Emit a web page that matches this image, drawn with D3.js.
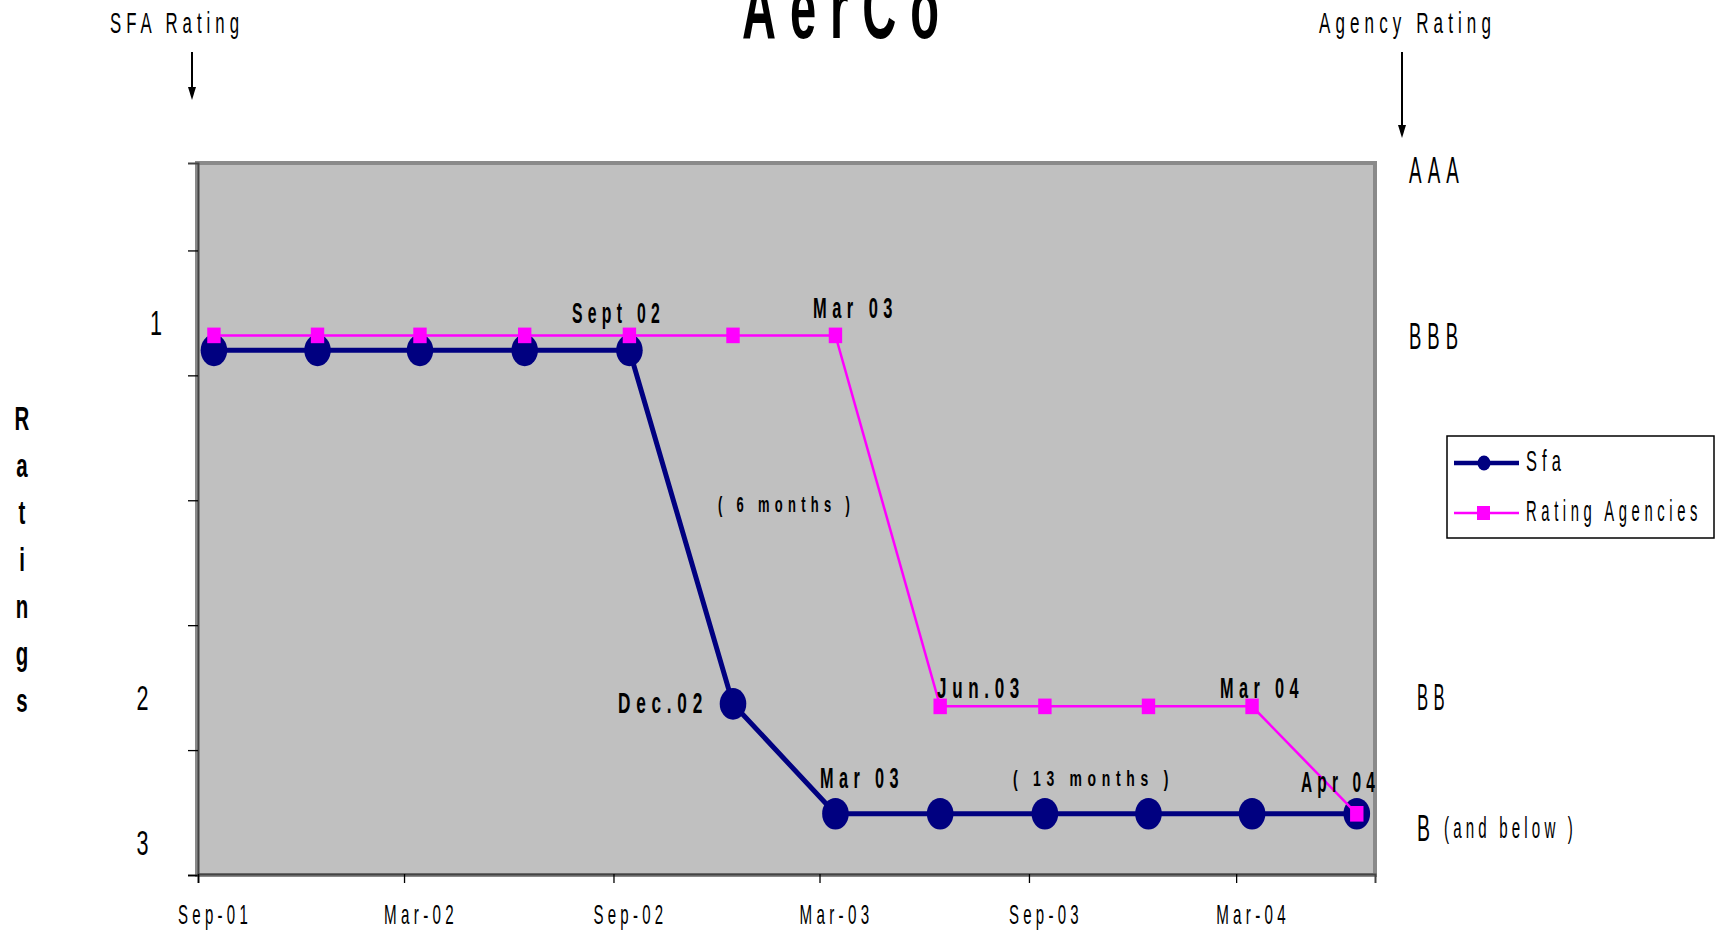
<!DOCTYPE html>
<html>
<head>
<meta charset="utf-8">
<script src="https://cdn.jsdelivr.net/npm/d3@7"></script>
<style>
  body { margin: 0; background: #fff; }
  svg { display: block; }
  text { font-family: "Liberation Sans Narrow", "Arial Narrow", "Liberation Sans", Arial, sans-serif; fill: #000; }
</style>
</head>
<body>
<svg id="chart" width="1717" height="933"></svg>
<script>
// ----- data -----
const dates = ["2001-09-15", "2001-12-15", "2002-03-15", "2002-06-15", "2002-09-15", "2002-12-15",
               "2003-03-15", "2003-06-15", "2003-09-15", "2003-12-15", "2004-03-15", "2004-06-15"];
// rating level in axis units (0 = bottom of plot)
const sfaValues    = [4.2, 4.2, 4.2, 4.2, 4.2, 1.37, 0.49, 0.49, 0.49, 0.49, 0.49, 0.49];
const agencyValues = [4.32, 4.32, 4.32, 4.32, 4.32, 4.32, 4.32, 1.35, 1.35, 1.35, 1.35, 0.49];
const xTickDates  = ["2001-09-01", "2002-03-01", "2002-09-01", "2003-03-01", "2003-09-01", "2004-03-01"];
const xTickLabels = ["Sep-01", "Mar-02", "Sep-02", "Mar-03", "Sep-03", "Mar-04"];
const yTicks = [0, 1, 2, 3, 4, 5];
const seriesNames = ["Sfa", "Rating Agencies"];
const agencyGrades = ["AAA", "BBB", "BB", "B"];

const parse = d3.timeParse("%Y-%m-%d");
const svg = d3.select("#chart");

// plot area
const plot = { left: 197, right: 1375, top: 163, bottom: 875 };

const x = d3.scaleTime()
  .domain([parse("2001-09-01"), parse("2004-07-01")])
  .range([198, plot.right]);
const y = d3.scaleLinear()
  .domain([0, 5.7])
  .range([plot.bottom, plot.top]);

// helper for the stretched, narrow Excel-looking text
function label(sel, t, px, py, o) {
  const ls = t.length > 1 ? (o.ls || 0) : 0;
  const el = sel.append("text").attr("x", px).attr("y", py).text(t)
    .attr("font-size", o.size)
    .attr("font-weight", o.bold ? "bold" : "normal")
    .attr("letter-spacing", ls);
  if (o.w) el.attr("textLength", o.w).attr("lengthAdjust", "spacingAndGlyphs");
  return el;
}
function narrow(sel, t, px, py, size, bold, sx) {
  sel.append("text")
    .attr("transform", `translate(${px},${py}) scale(${sx},1)`)
    .attr("text-anchor", "middle")
    .attr("font-size", size)
    .attr("font-weight", bold ? "bold" : "normal")
    .text(t);
}

// background + frame
svg.append("rect")
  .attr("x", plot.left).attr("y", plot.top)
  .attr("width", plot.right - plot.left).attr("height", plot.bottom - plot.top)
  .attr("fill", "#c0c0c0").attr("stroke", "#8a8a8a").attr("stroke-width", 4);

// axes
const yAxis = d3.axisLeft(y).tickValues(yTicks).tickSize(10).tickFormat("");
svg.append("g").attr("transform", `translate(${plot.left + 1},0)`).call(yAxis)
  .call(g => g.select(".domain").attr("stroke", "#444").attr("stroke-width", 2))
  .call(g => g.selectAll(".tick line").attr("stroke", "#000").attr("stroke-width", 1.3));

const xAxis = d3.axisBottom(x).tickValues(xTickDates.map(parse)).tickSize(9).tickFormat("");
svg.append("g").attr("transform", `translate(0,${plot.bottom - 1})`).call(xAxis)
  .call(g => g.select(".domain").attr("stroke", "#444").attr("stroke-width", 2))
  .call(g => g.selectAll(".tick line").attr("stroke", "#000").attr("stroke-width", 1.3));

// x tick labels (Excel places them mid-month)
const xw = 74;
svg.append("g").selectAll("text")
  .data(xTickLabels)
  .join("text")
  .attr("x", (d, i) => x(parse(xTickDates[i])) + 17 - xw / 2)
  .attr("y", 924)
  .attr("font-size", 28)
  .attr("letter-spacing", 8)
  .attr("textLength", xw)
  .attr("lengthAdjust", "spacingAndGlyphs")
  .text(d => d);

// series
const sfa = dates.map((d, i) => ({ date: parse(d), v: sfaValues[i] }));
const agency = dates.map((d, i) => ({ date: parse(d), v: agencyValues[i] }));
const line = d3.line().x(d => x(d.date)).y(d => y(d.v));

svg.append("path").datum(sfa).attr("d", line)
  .attr("fill", "none").attr("stroke", "#000080").attr("stroke-width", 5);
svg.append("g").selectAll("ellipse").data(sfa).join("ellipse")
  .attr("cx", d => x(d.date)).attr("cy", d => y(d.v))
  .attr("rx", 13.3).attr("ry", 15.8).attr("fill", "#000080");

svg.append("path").datum(agency).attr("d", line)
  .attr("fill", "none").attr("stroke", "#ff00ff").attr("stroke-width", 2.5);
svg.append("g").selectAll("rect").data(agency).join("rect")
  .attr("x", d => x(d.date) - 6.7).attr("y", d => y(d.v) - 7.8)
  .attr("width", 13.4).attr("height", 15.6).attr("fill", "#ff00ff");

// title
label(svg, "AerCo", 742, 38, { size: 88, bold: true, ls: 26, w: 211 });

// header labels with arrows
label(svg, "SFA Rating", 110, 33, { size: 30, ls: 9, w: 134 });
label(svg, "Agency Rating", 1319, 33, { size: 30, ls: 9, w: 177 });

function arrow(px, y0, y1) {
  svg.append("line").attr("x1", px).attr("x2", px).attr("y1", y0).attr("y2", y1 - 10)
    .attr("stroke", "#000").attr("stroke-width", 2);
  svg.append("path")
    .attr("d", d3.line()([[px - 4, y1 - 13], [px + 4, y1 - 13], [px, y1]]) + "Z")
    .attr("fill", "#000");
}
arrow(192, 52, 100);
arrow(1402, 52, 138);

// vertical axis title, stacked letters
const titleLetters = "Ratings".split("");
titleLetters.forEach((c, i) => narrow(svg, c, 22, 430 + i * 47, 33, true, 0.62));

// left rating numbers
narrow(svg, "1", 156, 335, 36, false, 0.6);
narrow(svg, "2", 142.5, 710, 36, false, 0.6);
narrow(svg, "3", 142.5, 855, 36, false, 0.6);

// right agency grades
const gradePos = [[1409, 183, 56], [1409, 349, 55], [1417, 710, 33], [1417, 841, 13]];
agencyGrades.forEach((g, i) =>
  label(svg, g, gradePos[i][0], gradePos[i][1], { size: 37, ls: 12, w: gradePos[i][2] }));
label(svg, "(and below )", 1444, 838, { size: 29, ls: 8, w: 133 });

// annotations inside the plot
const notes = [
  ["Sept 02", 572, 323, 93, 30],
  ["Mar 03", 813, 318, 85, 30],
  ["( 6 months )", 718, 512, 137, 22],
  ["Dec.02", 618, 713, 90, 30],
  ["Jun.03", 937, 698, 88, 30],
  ["Mar 04", 1220, 698, 84, 30],
  ["Mar 03", 820, 788, 84, 30],
  ["( 13 months )", 1013, 786, 161, 22],
  ["Apr 04", 1301, 792, 79, 30]
];
notes.forEach(n => label(svg, n[0], n[1], n[2], { size: n[4], bold: true, ls: n[4] > 25 ? 10 : 9, w: n[3] }));

// legend
const lg = svg.append("g");
lg.append("rect").attr("x", 1447).attr("y", 436).attr("width", 267).attr("height", 102)
  .attr("fill", "#fff").attr("stroke", "#000").attr("stroke-width", 1.5);
lg.append("line").attr("x1", 1454).attr("x2", 1519).attr("y1", 463).attr("y2", 463)
  .attr("stroke", "#000080").attr("stroke-width", 4.5);
lg.append("ellipse").attr("cx", 1484).attr("cy", 463).attr("rx", 6.5).attr("ry", 7.5).attr("fill", "#000080");
lg.append("line").attr("x1", 1454).attr("x2", 1519).attr("y1", 513).attr("y2", 513)
  .attr("stroke", "#ff00ff").attr("stroke-width", 2.5);
lg.append("rect").attr("x", 1477).attr("y", 506).attr("width", 13).attr("height", 14).attr("fill", "#ff00ff");
label(lg, seriesNames[0], 1526, 471, { size: 29, ls: 9, w: 40 });
label(lg, seriesNames[1], 1526, 521, { size: 29, ls: 9, w: 176 });
</script>
</body>
</html>
